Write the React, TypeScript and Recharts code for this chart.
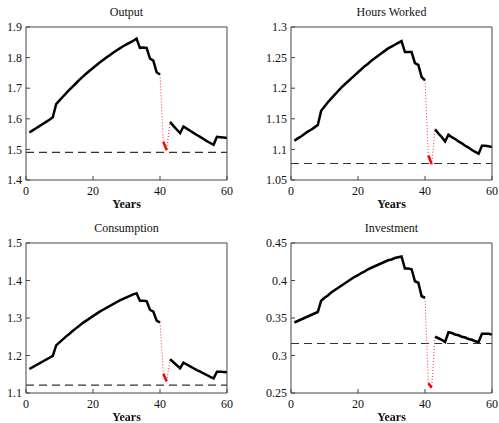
import { Line, LineChart, ReferenceLine, XAxis, YAxis } from "recharts";

const FONT = "Liberation Serif, Times New Roman, Times, DejaVu Serif, serif";

// years 1..60; 41 and 42 are the red (transition) points
const outputPath = [
  1.555, 1.562, 1.569, 1.576, 1.583, 1.59, 1.597, 1.605, 1.648, 1.66,
  1.672, 1.684, 1.695, 1.706, 1.717, 1.728, 1.738, 1.748, 1.757, 1.766,
  1.775, 1.784, 1.792, 1.8, 1.808, 1.816, 1.823, 1.83, 1.837, 1.843,
  1.849, 1.855, 1.862, 1.832, 1.833, 1.832, 1.797, 1.79, 1.752, 1.745,
  1.525, 1.497, 1.59, 1.577, 1.565, 1.553, 1.575, 1.568, 1.561, 1.554,
  1.547, 1.541, 1.534, 1.527, 1.521, 1.515, 1.541, 1.54, 1.539, 1.537,
];

const hoursPath = [
  1.114, 1.118, 1.121, 1.125, 1.129, 1.132, 1.136, 1.14, 1.163, 1.17,
  1.177, 1.183, 1.189, 1.195, 1.201, 1.206, 1.211, 1.216, 1.221, 1.226,
  1.231, 1.236, 1.24, 1.245, 1.249, 1.253, 1.257, 1.261, 1.265, 1.268,
  1.271, 1.274, 1.277, 1.259, 1.259, 1.259, 1.241, 1.238, 1.218, 1.213,
  1.09, 1.076, 1.133, 1.126, 1.12, 1.113, 1.124, 1.12, 1.117, 1.113,
  1.11, 1.106, 1.103, 1.099, 1.096, 1.093, 1.106, 1.106, 1.105, 1.104,
];

const consumptionPath = [
  1.164, 1.169, 1.174, 1.179, 1.184, 1.189, 1.194, 1.199, 1.227, 1.235,
  1.243, 1.251, 1.258, 1.266, 1.273, 1.28, 1.287, 1.293, 1.299, 1.305,
  1.311, 1.317, 1.322, 1.327, 1.332, 1.337, 1.342, 1.347, 1.351, 1.355,
  1.359, 1.363, 1.366, 1.346, 1.346, 1.345, 1.322, 1.317, 1.293, 1.288,
  1.151, 1.131, 1.19, 1.182, 1.174, 1.166, 1.181, 1.176, 1.171, 1.166,
  1.161, 1.157, 1.152, 1.148, 1.143, 1.139, 1.157, 1.157, 1.156, 1.155,
];

const investmentPath = [
  0.344, 0.346, 0.348, 0.35, 0.352, 0.354, 0.356, 0.358, 0.373, 0.377,
  0.38, 0.384, 0.387, 0.39, 0.393, 0.396, 0.399, 0.402, 0.405, 0.407,
  0.41, 0.412, 0.415, 0.417, 0.419, 0.421, 0.423, 0.425, 0.427, 0.428,
  0.43, 0.431, 0.432, 0.416, 0.416, 0.415, 0.399, 0.397, 0.379, 0.377,
  0.263, 0.257, 0.325, 0.323, 0.321, 0.318, 0.331, 0.33, 0.328, 0.327,
  0.325, 0.324, 0.322, 0.321, 0.319, 0.318, 0.329, 0.329, 0.329, 0.328,
];

const years = outputPath.map((_, i) => i + 1);
const xTicks = [0, 20, 40, 60];

const outputTicks = [1.4, 1.5, 1.6, 1.7, 1.8, 1.9];
const hoursTicks = [1.05, 1.1, 1.15, 1.2, 1.25, 1.3];
const consumptionTicks = [1.1, 1.2, 1.3, 1.4, 1.5];
const investmentTicks = [0.25, 0.3, 0.35, 0.4, 0.45];

const steadyOutput = 1.49;
const steadyHours = 1.077;
const steadyConsumption = 1.121;
const steadyInvestment = 0.316;

type PanelProps = {
  title: string;
  values: number[];
  steady: number;
  ticks: number[];
  left: number;
  top: number;
  width: number;
  height: number;
  marginTop: number;
  marginRight: number;
};

function Panel({ title, values, steady, ticks, left, top, width, height, marginTop, marginRight }: PanelProps) {
  const data = years.map((year, i) => ({
    year,
    black: year <= 40 || year >= 43 ? values[i] : null,
    red: year === 41 || year === 42 ? values[i] : null,
    jump: year >= 40 && year <= 43 ? values[i] : null,
  }));
  const domain: [number, number] = [ticks[0], ticks[ticks.length - 1]];
  const plotLeft = 26;
  const plotRight = width - marginRight - 1;
  const plotTop = marginTop + 1;
  const plotBottom = height - 30;
  const tickStyle = { fill: "#111", fontSize: 12, fontFamily: FONT };

  return (
    <div style={{ position: "absolute", left, top, width, height, fontFamily: FONT }}>
      <div
        style={{
          position: "absolute",
          left: plotLeft,
          width: plotRight - plotLeft,
          top: plotTop - 22,
          textAlign: "center",
          fontSize: 12,
          lineHeight: "14px",
          color: "#111",
        }}
      >
        {title}
      </div>
      <LineChart
        width={width}
        height={height}
        data={data}
        margin={{ top: marginTop, right: marginRight, bottom: 10, left: 0 }}
      >
        <XAxis
          xAxisId="b"
          dataKey="year"
          type="number"
          domain={[0, 60]}
          ticks={xTicks}
          height={20}
          tickSize={-4}
          tickMargin={10}
          stroke="#444"
          tick={tickStyle}
          allowDataOverflow
        />
        <XAxis
          xAxisId="t"
          orientation="top"
          dataKey="year"
          type="number"
          domain={[0, 60]}
          ticks={xTicks}
          height={1}
          tickSize={-4}
          stroke="#444"
          tick={false}
        />
        <YAxis
          yAxisId="l"
          domain={domain}
          ticks={ticks}
          width={26}
          tickSize={-4}
          tickMargin={8}
          stroke="#444"
          tick={tickStyle}
          allowDataOverflow
        />
        <YAxis
          yAxisId="r"
          orientation="right"
          domain={domain}
          ticks={ticks}
          width={1}
          tickSize={-4}
          stroke="#444"
          tick={false}
        />
        <ReferenceLine
          xAxisId="b"
          yAxisId="l"
          y={steady}
          stroke="#333"
          strokeWidth={1.2}
          strokeDasharray="8 5"
        />
        <Line
          xAxisId="b"
          yAxisId="l"
          dataKey="jump"
          stroke="#ff3030"
          strokeWidth={1}
          strokeDasharray="1 2"
          dot={false}
          isAnimationActive={false}
        />
        <Line
          xAxisId="b"
          yAxisId="l"
          dataKey="red"
          stroke="#ff0000"
          strokeWidth={2.5}
          dot={false}
          isAnimationActive={false}
        />
        <Line
          xAxisId="b"
          yAxisId="l"
          dataKey="black"
          stroke="#000"
          strokeWidth={2.5}
          dot={false}
          isAnimationActive={false}
        />
      </LineChart>
      <div
        style={{
          position: "absolute",
          left: plotLeft,
          width: plotRight - plotLeft,
          top: plotBottom + 17,
          textAlign: "center",
          fontSize: 12,
          fontWeight: 700,
          lineHeight: "14px",
          color: "#111",
        }}
      >
        Years
      </div>
    </div>
  );
}

export default function App() {
  return (
    <div style={{ position: "fixed", left: 0, top: 0, width: 499, height: 423, background: "#fff" }}>
      <Panel title="Output" values={outputPath} steady={steadyOutput} ticks={outputTicks}
        left={0} top={0} width={250} height={210} marginTop={26} marginRight={22} />
      <Panel title="Hours Worked" values={hoursPath} steady={steadyHours} ticks={hoursTicks}
        left={265} top={0} width={234} height={210} marginTop={26} marginRight={6} />
      <Panel title="Consumption" values={consumptionPath} steady={steadyConsumption} ticks={consumptionTicks}
        left={0} top={210} width={250} height={213} marginTop={32} marginRight={22} />
      <Panel title="Investment" values={investmentPath} steady={steadyInvestment} ticks={investmentTicks}
        left={265} top={210} width={234} height={213} marginTop={32} marginRight={6} />
    </div>
  );
}
